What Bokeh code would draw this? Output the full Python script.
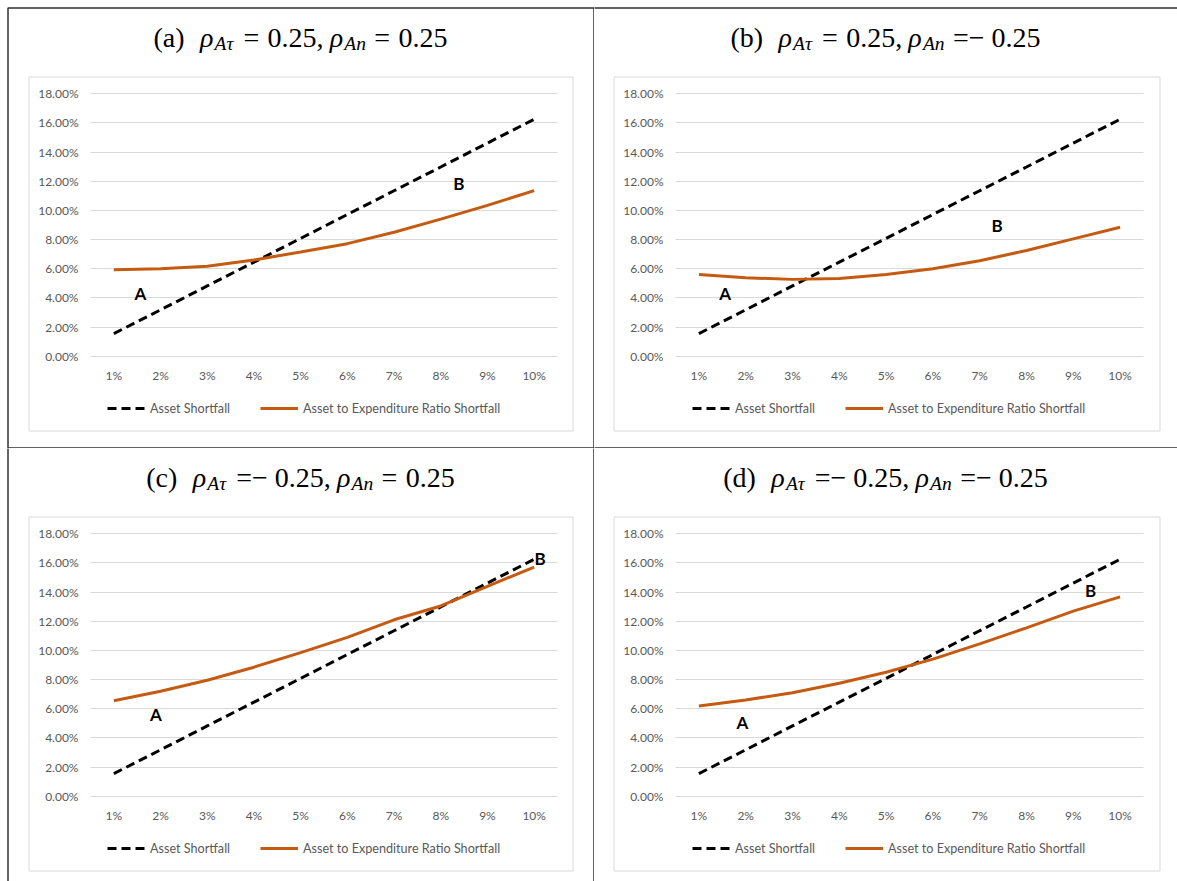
from bokeh.plotting import figure
from bokeh.models import (Range1d, NumeralTickFormatter, FixedTicker,
                          Label, BoxAnnotation, Legend, LegendItem)
from bokeh.layouts import gridplot
from bokeh.embed import file_html
from bokeh.resources import INLINE

# ---------------- data ----------------
rates = ["1%", "2%", "3%", "4%", "5%", "6%", "7%", "8%", "9%", "10%"]
y_ticks = [0.0, 0.02, 0.04, 0.06, 0.08, 0.10, 0.12, 0.14, 0.16, 0.18]

asset_shortfall = [0.0155, 0.0318, 0.0482, 0.0645, 0.0808, 0.0972, 0.1135, 0.1298, 0.1462, 0.1625]

ratio_a = [0.0593, 0.0600, 0.0617, 0.0660, 0.0715, 0.0772, 0.0850, 0.0940, 0.1035, 0.1136]
ratio_b = [0.0560, 0.0538, 0.0527, 0.0533, 0.0560, 0.0600, 0.0655, 0.0725, 0.0805, 0.0885]
ratio_c = [0.0655, 0.0720, 0.0795, 0.0885, 0.0985, 0.1090, 0.1210, 0.1305, 0.1440, 0.1572]
ratio_d = [0.0618, 0.0660, 0.0710, 0.0775, 0.0850, 0.0940, 0.1045, 0.1155, 0.1270, 0.1367]

series_names = ["Asset Shortfall", "Asset to Expenditure Ratio Shortfall"]
panel_letters = ["(a)", "(b)", "(c)", "(d)"]
rho_tau_values = ["0.25", "0.25", "−0.25", "−0.25"]
rho_n_values = ["0.25", "−0.25", "0.25", "−0.25"]
point_labels = ["A", "B"]

# category position (1 = "1%") and y value of the A / B markers per panel
label_pos = [
    [(1.57, 0.043), (8.39, 0.1187)],
    [(1.56, 0.043), (7.37, 0.0900)],
    [(1.90, 0.056), (10.13, 0.1630)],
    [(1.93, 0.0505), (9.37, 0.1410)],
]

# ---------------- style ----------------
ORANGE = "#C55A11"
GRID = "#d9d9d9"
TXT = "#595959"
FONT = "Lato"
SERIF = "Liberation Serif"

MET = {"(": 0.333, ")": 0.333, "a": 0.444, "b": 0.5, "c": 0.444, "d": 0.5,
       " ": 0.25, ".": 0.25, ",": 0.25, "=": 0.564, "−": 0.564,
       "ρ": 0.5, "τ": 0.44, "A": 0.611, "n": 0.5}


def tw(s, size):
    return sum(MET.get(ch, 0.5) for ch in s) * size


class Geo:
    """page-pixel geometry of one panel, converted to the figure's own pixels"""
    def __init__(self, ox, oy, W, H):
        self.ox, self.oy, self.W, self.H = ox, oy, W, H

    def sx(self, px):
        return px - self.ox

    def sy(self, py):
        return self.H - (py - self.oy)


def add_box(p, g, x0, y0, x1, y1, color, width, level="underlay"):
    p.add_layout(BoxAnnotation(left=g.sx(x0), right=g.sx(x1), top=g.sy(y0), bottom=g.sy(y1),
                               left_units="screen", right_units="screen",
                               top_units="screen", bottom_units="screen",
                               fill_color=None, fill_alpha=0, line_color=color, line_alpha=1.0,
                               line_width=width, level=level))


def add_title(p, g, letter, v1, v2, cx, base):
    S, SUB = 28, 19.5
    toks = [(letter, False, False, 0.0), ("ρ", True, False, 0.55), ("Aτ", True, True, 0.02)]
    for v, last in ((v1, False), (v2, True)):
        toks.append(("=", False, False, 0.3))
        if v.startswith("−"):
            toks.append(("−", False, False, 0.0))
            toks.append((v[1:] + ("" if last else ","), False, False, 0.25))
        else:
            toks.append((v + ("" if last else ","), False, False, 0.3))
        if not last:
            toks.append(("ρ", True, False, 0.22))
            toks.append(("An", True, True, 0.02))
    total = sum(gap * S + tw(t, SUB if sub else S) for t, it, sub, gap in toks)
    x = cx - total / 2
    for t, it, sub, gap in toks:
        size = SUB if sub else S
        x += gap * S
        p.add_layout(Label(x=g.sx(x), y=g.sy(base + (6 if sub else 0)),
                           x_units="screen", y_units="screen",
                           text=t, text_font=SERIF, text_font_style="italic" if it else "normal",
                           text_font_size=f"{size}px", text_color="black",
                           text_align="left", text_baseline="alphabetic"))
        x += tw(t, size)


def make_panel(i, ratio, g, plot_l, plot_r, y0px, y18px, chart_box, table_box, title_cx, title_base,
               legend_left, legend_cy):
    n = len(rates)
    pos = list(range(1, n + 1))
    ppx = (plot_r - plot_l) / n
    xs = 0.5 - g.sx(plot_l) / ppx
    ppy = (y0px - y18px) / y_ticks[-1]
    ys = -g.sy(y0px) / ppy
    p = figure(width=g.W, height=g.H, title=None,
               x_range=Range1d(xs, xs + g.W / ppx), y_range=Range1d(ys, ys + g.H / ppy),
               output_backend="svg", toolbar_location=None,
               min_border_left=0, min_border_right=0, min_border_top=0, min_border_bottom=0,
               background_fill_color="white", border_fill_color="white")
    p.outline_line_color = None
    p.xgrid.visible = False

    # axes inside the frame
    p.xaxis.fixed_location = 0
    p.yaxis.fixed_location = 0.5
    p.xaxis.ticker = FixedTicker(ticks=pos)
    p.xaxis.major_label_overrides = {k: r for k, r in zip(pos, rates)}
    p.yaxis.ticker = FixedTicker(ticks=y_ticks)
    p.yaxis.formatter = NumeralTickFormatter(format="0.00%")
    for ax in (p.xaxis[0], p.yaxis[0]):
        ax.axis_line_color = None
        ax.major_tick_line_color = None
        ax.minor_tick_line_color = None
        ax.major_tick_out = 0
        ax.major_tick_in = 0
        ax.minor_tick_out = 0
        ax.minor_tick_in = 0
        ax.major_label_text_font = FONT
        ax.major_label_text_font_size = "12px"
        ax.major_label_text_color = TXT
    p.yaxis.major_label_standoff = 12
    p.xaxis.major_label_standoff = 12

    grid = p.ygrid[0]
    grid.grid_line_color = GRID
    grid.grid_line_width = 1
    if "cross_bounds" in grid.properties():
        grid.cross_bounds = (0.5, n + 0.5)
    else:
        grid.visible = False
        p.segment(x0=0.5, x1=n + 0.5, y0=y_ticks, y1=y_ticks, line_color=GRID, line_width=1,
                  level="underlay")

    r1 = p.line(x=pos, y=asset_shortfall, line_color="black", line_width=3, line_dash="9 5")
    r2 = p.line(x=pos, y=ratio, line_color=ORANGE, line_width=3)

    legend = Legend(items=[LegendItem(label=series_names[0], renderers=[r1]),
                           LegendItem(label=series_names[1], renderers=[r2])],
                    location=(g.sx(legend_left), g.sy(legend_cy + 8)), orientation="horizontal",
                    glyph_width=38, glyph_height=16, label_height=16, label_standoff=5,
                    spacing=30, padding=0, margin=0, border_line_color=None,
                    background_fill_alpha=0, label_text_font=FONT,
                    label_text_font_size="12.6px", label_text_color=TXT)
    p.add_layout(legend, "center")

    for txt, (c, yv) in zip(point_labels, label_pos[i]):
        p.add_layout(Label(x=c, y=yv, text=txt, text_font=FONT, text_font_style="bold",
                           text_font_size="17px", text_color="black",
                           text_align="center", text_baseline="middle"))

    add_box(p, g, *chart_box, GRID, 1)
    add_box(p, g, *table_box, "#303030", 1.5, level="overlay")
    add_title(p, g, panel_letters[i], rho_tau_values[i], rho_n_values[i], title_cx, title_base)
    return p


# page geometry (pixels)
COL2_X, ROW2_Y = 594, 448
W1, W2 = 594, 1177 - 594
H1, H2 = 448, 881 - 448
DY = 440  # vertical offset of the second row of panels
TB = 37   # title baseline (as placed by the label renderer)

ga, gb = Geo(0, 0, W1, H1), Geo(COL2_X, 0, W2, H1)
gc, gd = Geo(0, ROW2_Y, W1, H2), Geo(COL2_X, ROW2_Y, W2, H2)

pa = make_panel(0, ratio_a, ga, 90, 557, 355.7, 93.3, (28.5, 76.5, 572.5, 430.5),
                (7.5, 7.5, 593.5, 447.5), 300, TB, 107, 408)
pb = make_panel(1, ratio_b, gb, 675, 1143, 355.7, 93.3, (613.5, 76.5, 1159.5, 430.5),
                (COL2_X - 20, 7.5, 1200, 447.5), 885, TB, 692, 408)
pc = make_panel(2, ratio_c, gc, 90, 557, 355.7 + DY, 93.3 + DY, (28.5, 76.5 + DY, 572.5, 430.5 + DY),
                (7.5, ROW2_Y - 20, 593.5, 900), 300, TB + DY, 107, 408 + DY)
pd = make_panel(3, ratio_d, gd, 675, 1143, 355.7 + DY, 93.3 + DY, (613.5, 76.5 + DY, 1159.5, 430.5 + DY),
                (COL2_X - 20, ROW2_Y - 20, 1200, 900), 885, TB + DY, 692, 408 + DY)

layout = gridplot([[pa, pb], [pc, pd]], toolbar_location=None)

open("out.html", "w").write(file_html(layout, INLINE))
